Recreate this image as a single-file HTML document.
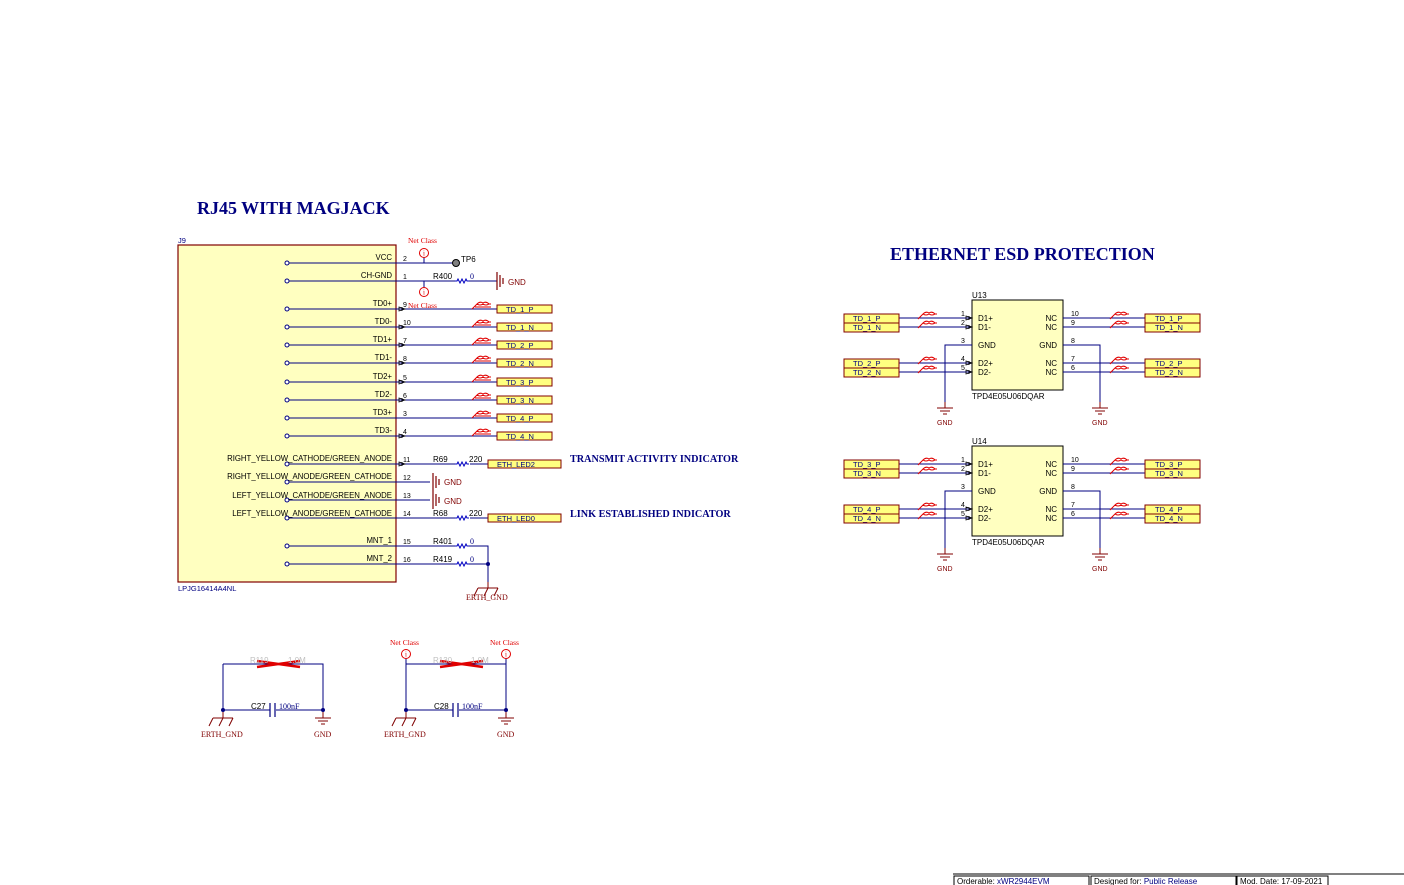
<!DOCTYPE html>
<html><head><meta charset="utf-8"><style>
html,body{margin:0;padding:0;background:#fff;width:1404px;height:885px;overflow:hidden}
svg{display:block}
.t{font-family:"Liberation Sans",sans-serif;font-size:8px;fill:#000}
.tj{font-family:"Liberation Sans",sans-serif;font-size:7.8px;fill:#000}
.lb{font-family:"Liberation Sans",sans-serif;font-size:7.5px;fill:#000080}
.pn{font-family:"Liberation Sans",sans-serif;font-size:7px;fill:#000}
.g{font-family:"Liberation Sans",sans-serif;font-size:8px;fill:#800000}
.s{font-family:"Liberation Serif",serif;font-size:8px;fill:#800000}
.nc{font-family:"Liberation Serif",serif;font-size:7.5px;fill:#e00000}
.h{font-family:"Liberation Serif",serif;font-weight:bold;font-size:18px;fill:#000080}
.h2{font-family:"Liberation Serif",serif;font-weight:bold;font-size:10.2px;fill:#000080}
.w{stroke:#000080;stroke-width:1;fill:none}
.bx{fill:#ffff80;stroke:#800000;stroke-width:1}
</style></head><body>
<svg width="1404" height="885" viewBox="0 0 1404 885" xmlns="http://www.w3.org/2000/svg">
<defs>
<g id="dp"><path d="M0,4 L5,-1 Q8,-4 11,-2 Q14,-4 17,-1 L19,-1 M5,-1 Q8,1 11,-1 Q14,1 17,-1 M3,2 L19,2" stroke="#e00000" fill="none" stroke-width="1"/></g>
<g id="dp2"><path d="M0,3 L5,-2 Q8,-5 11,-3 Q14,-5 17,-2 L19,-2 M5,-2 Q8,0 11,-2 Q14,0 17,-2" stroke="#e00000" fill="none" stroke-width="1"/></g>
<g id="res"><path d="M0,0 L2,0 L3,-2 L5,2 L7,-2 L9,2 L11,-2 L12,0 L14,0" stroke="#0000c0" fill="none" stroke-width="1"/></g>
<g id="gnd"><path d="M0,0 V6 M-8,6 H8 M-5,9 H5 M-2,12 H2" stroke="#800000" fill="none" stroke-width="1"/></g>
<g id="egnd"><path d="M0,0 V6 M-10,6 H10 M-10,6 L-14,14 M0,6 L-4,14 M10,6 L6,14" stroke="#800000" fill="none" stroke-width="1"/></g>
<g id="hg"><path d="M0,-9 V9 M3,-6 V6 M6,-3 V3" stroke="#800000" fill="none" stroke-width="1.2"/></g>
<g id="nci"><circle r="4.5" fill="#fff" stroke="#e00000"/><text x="0" y="2.5" text-anchor="middle" style="font:7px 'Liberation Serif',serif;fill:#e00000">i</text></g>
<g id="arr"><path d="M-4,-2 L2,0 L-4,2 Z M-1,-2 V2" stroke="#000" fill="none" stroke-width="0.8"/></g>
</defs>

<text x="197" y="214" class="h">RJ45 WITH MAGJACK</text>
<text x="890" y="260" class="h">ETHERNET ESD PROTECTION</text>

<!-- J9 -->
<text x="178" y="243" class="lb">J9</text>
<rect x="178" y="245" width="218" height="337" fill="#ffffc0" stroke="#800000" stroke-width="1.2"/>
<text x="178" y="591" class="lb">LPJG16414A4NL</text>

<g class="w">
<path d="M287,263 H455 M287,281 H497 M287,309 H497 M287,327 H497 M287,345 H497 M287,363 H497 M287,382 H497 M287,400 H497 M287,418 H497 M287,436 H497"/>
<path d="M287,464 H455 M470,464 H488 M287,482 H430 M287,500 H430 M287,518 H455 M470,518 H488 M287,546 H455 M468,546 H488 V564 M287,564 H455 M468,564 H488 M488,564 V584"/>
</g>
<rect x="455" y="279" width="14" height="4" fill="#fff"/>
<g fill="#fff" stroke="#000080">
<circle cx="287" cy="263" r="2"/><circle cx="287" cy="281" r="2"/><circle cx="287" cy="309" r="2"/><circle cx="287" cy="327" r="2"/><circle cx="287" cy="345" r="2"/><circle cx="287" cy="363" r="2"/><circle cx="287" cy="382" r="2"/><circle cx="287" cy="400" r="2"/><circle cx="287" cy="418" r="2"/><circle cx="287" cy="436" r="2"/><circle cx="287" cy="464" r="2"/><circle cx="287" cy="482" r="2"/><circle cx="287" cy="500" r="2"/><circle cx="287" cy="518" r="2"/><circle cx="287" cy="546" r="2"/><circle cx="287" cy="564" r="2"/>
</g>
<g class="tj" text-anchor="end">
<text x="392" y="260">VCC</text><text x="392" y="278">CH-GND</text><text x="392" y="306">TD0+</text><text x="392" y="324">TD0-</text><text x="392" y="342">TD1+</text><text x="392" y="360">TD1-</text><text x="392" y="379">TD2+</text><text x="392" y="397">TD2-</text><text x="392" y="415">TD3+</text><text x="392" y="433">TD3-</text>
<text x="392" y="461">RIGHT_YELLOW_CATHODE/GREEN_ANODE</text><text x="392" y="479">RIGHT_YELLOW_ANODE/GREEN_CATHODE</text><text x="392" y="498">LEFT_YELLOW_CATHODE/GREEN_ANODE</text><text x="392" y="516">LEFT_YELLOW_ANODE/GREEN_CATHODE</text>
<text x="392" y="543">MNT_1</text><text x="392" y="561">MNT_2</text>
</g>
<g class="pn">
<text x="403" y="261">2</text><text x="403" y="279">1</text><text x="403" y="307">9</text><text x="403" y="325">10</text><text x="403" y="343">7</text><text x="403" y="361">8</text><text x="403" y="380">5</text><text x="403" y="398">6</text><text x="403" y="416">3</text><text x="403" y="434">4</text>
<text x="403" y="462">11</text><text x="403" y="480">12</text><text x="403" y="498">13</text><text x="403" y="516">14</text><text x="403" y="544">15</text><text x="403" y="562">16</text>
</g>
<g transform="translate(403,0)"><use href="#arr" y="309"/><use href="#arr" y="327"/><use href="#arr" y="345"/><use href="#arr" y="363"/><use href="#arr" y="382"/><use href="#arr" y="400"/><use href="#arr" y="436"/><use href="#arr" y="464"/></g>
<!-- VCC / TP6 -->
<circle cx="456" cy="263" r="3.5" fill="#808080" stroke="#000"/>
<text x="461" y="262" class="t">TP6</text>
<line x1="424" y1="257" x2="424" y2="263" stroke="#000080"/>
<use href="#nci" x="424" y="253"/><text x="408" y="243" class="nc">Net Class</text>
<line x1="424" y1="281" x2="424" y2="287" stroke="#000080"/>
<use href="#nci" x="424" y="292"/><text x="408" y="308" class="nc">Net Class</text>
<text x="433" y="279" class="t">R400</text><use href="#res" x="455" y="281"/><text x="470" y="279" class="s" style="fill:#000080">0</text>
<use href="#hg" x="497" y="281"/><text x="508" y="285" class="g">GND</text>
<!-- diff pair markers -->
<g><use href="#dp" x="472" y="305"/><use href="#dp" x="472" y="323"/><use href="#dp" x="472" y="341"/><use href="#dp" x="472" y="359"/><use href="#dp" x="472" y="378"/><use href="#dp" x="472" y="396"/><use href="#dp" x="472" y="414"/><use href="#dp" x="472" y="432"/></g>
<g>
<rect class="bx" x="497" y="305" width="55" height="8"/><rect class="bx" x="497" y="323" width="55" height="8"/><rect class="bx" x="497" y="341" width="55" height="8"/><rect class="bx" x="497" y="359" width="55" height="8"/><rect class="bx" x="497" y="378" width="55" height="8"/><rect class="bx" x="497" y="396" width="55" height="8"/><rect class="bx" x="497" y="414" width="55" height="8"/><rect class="bx" x="497" y="432" width="55" height="8"/>
</g>
<g class="lb"><text x="506" y="312">TD_1_P</text><text x="506" y="330">TD_1_N</text><text x="506" y="348">TD_2_P</text><text x="506" y="366">TD_2_N</text><text x="506" y="385">TD_3_P</text><text x="506" y="403">TD_3_N</text><text x="506" y="421">TD_4_P</text><text x="506" y="439">TD_4_N</text></g>
<!-- LEDs -->
<text x="433" y="462" class="t">R69</text><use href="#res" x="455" y="464"/><text x="469" y="462" class="t">220</text>
<rect class="bx" x="488" y="460" width="73" height="8"/><text x="497" y="467" class="lb">ETH_LED2</text>
<text x="433" y="516" class="t">R68</text><use href="#res" x="455" y="518"/><text x="469" y="516" class="t">220</text>
<rect class="bx" x="488" y="514" width="73" height="8"/><text x="497" y="521" class="lb">ETH_LED0</text>
<text x="570" y="462" class="h2">TRANSMIT ACTIVITY INDICATOR</text>
<text x="570" y="517" class="h2">LINK ESTABLISHED INDICATOR</text>
<use href="#hg" x="433" y="482"/><text x="444" y="485" class="g">GND</text>
<use href="#hg" x="433" y="500"/><text x="444" y="504" class="g">GND</text>
<text x="433" y="544" class="t">R401</text><use href="#res" x="455" y="546"/><text x="470" y="544" class="s" style="fill:#000080">0</text>
<text x="433" y="562" class="t">R419</text><use href="#res" x="455" y="564"/><text x="470" y="562" class="s" style="fill:#000080">0</text>
<circle cx="488" cy="564" r="2" fill="#000080"/>
<use href="#egnd" x="488" y="582"/><text x="466" y="600" class="s">ERTH_GND</text>

<!-- Bottom left networks -->
<g class="w"><path d="M223,664 H323 V710 M223,664 V710 H270 M276,710 H323"/><path d="M406,664 H506 V710 M406,664 V710 H453 M459,710 H506"/></g>
<path d="M270,703 V717 M275,703 V717 M453,703 V717 M458,703 V717" stroke="#000080" stroke-width="1.2"/>
<text x="251" y="709" class="t">C27</text><text x="279" y="709" class="s" style="fill:#000080">100nF</text>
<text x="434" y="709" class="t">C28</text><text x="462" y="709" class="s" style="fill:#000080">100nF</text>
<g fill="#000080"><circle cx="223" cy="710" r="2"/><circle cx="323" cy="710" r="2"/><circle cx="406" cy="710" r="2"/><circle cx="506" cy="710" r="2"/></g>
<path d="M257,661 L300,667 M257,667 L300,661 M440,661 L483,667 M440,667 L483,661" stroke="#e00000" stroke-width="2.5"/>
<text x="250" y="663" class="t" style="fill:#c0c0c0">R119</text><text x="288" y="663" class="t" style="fill:#c0c0c0">1.0M</text>
<text x="433" y="663" class="t" style="fill:#c0c0c0">R130</text><text x="471" y="663" class="t" style="fill:#c0c0c0">1.0M</text>
<use href="#egnd" x="223" y="712"/><text x="201" y="737" class="s">ERTH_GND</text>
<use href="#gnd" x="323" y="712"/><text x="314" y="737" class="s">GND</text>
<use href="#egnd" x="406" y="712"/><text x="384" y="737" class="s">ERTH_GND</text>
<use href="#gnd" x="506" y="712"/><text x="497" y="737" class="s">GND</text>
<line x1="406" y1="658" x2="406" y2="664" stroke="#000080"/><use href="#nci" x="406" y="654"/><text x="390" y="645" class="nc">Net Class</text>
<line x1="506" y1="658" x2="506" y2="664" stroke="#000080"/><use href="#nci" x="506" y="654"/><text x="490" y="645" class="nc">Net Class</text>

<!-- U13 -->
<g>
<text x="972" y="298" class="t">U13</text>
<rect x="972" y="300" width="91" height="90" fill="#ffffc0" stroke="#000" stroke-width="1"/>
<text x="972" y="399" class="t">TPD4E05U06DQAR</text>
<g class="w"><path d="M899,318 H972 M899,327 H972 M899,363 H972 M899,372 H972 M1063,318 H1145 M1063,327 H1145 M1063,363 H1145 M1063,372 H1145 M972,345 H945 V408 M1063,345 H1100 V408"/></g>
<use href="#arr" x="970" y="318"/><use href="#arr" x="970" y="327"/><use href="#arr" x="970" y="363"/><use href="#arr" x="970" y="372"/>
<g class="pn"><text x="961" y="316">1</text><text x="961" y="325">2</text><text x="961" y="343">3</text><text x="961" y="361">4</text><text x="961" y="370">5</text><text x="1071" y="316">10</text><text x="1071" y="325">9</text><text x="1071" y="343">8</text><text x="1071" y="361">7</text><text x="1071" y="370">6</text></g>
<g class="t"><text x="978" y="321">D1+</text><text x="978" y="330">D1-</text><text x="978" y="348">GND</text><text x="978" y="366">D2+</text><text x="978" y="375">D2-</text></g>
<g class="t" text-anchor="end"><text x="1057" y="321">NC</text><text x="1057" y="330">NC</text><text x="1057" y="348">GND</text><text x="1057" y="366">NC</text><text x="1057" y="375">NC</text></g>
<use href="#dp2" x="918" y="316"/><use href="#dp2" x="918" y="325"/><use href="#dp2" x="918" y="361"/><use href="#dp2" x="918" y="370"/>
<use href="#dp2" x="1110" y="316"/><use href="#dp2" x="1110" y="325"/><use href="#dp2" x="1110" y="361"/><use href="#dp2" x="1110" y="370"/>
<rect class="bx" x="844" y="314" width="55" height="9"/><rect class="bx" x="844" y="323" width="55" height="9"/><rect class="bx" x="844" y="359" width="55" height="9"/><rect class="bx" x="844" y="368" width="55" height="9"/>
<rect class="bx" x="1145" y="314" width="55" height="9"/><rect class="bx" x="1145" y="323" width="55" height="9"/><rect class="bx" x="1145" y="359" width="55" height="9"/><rect class="bx" x="1145" y="368" width="55" height="9"/>
<use href="#gnd" x="945" y="402"/><text x="937" y="425" class="t" style="fill:#800000;font-size:7px">GND</text>
<use href="#gnd" x="1100" y="402"/><text x="1092" y="425" class="t" style="fill:#800000;font-size:7px">GND</text>
</g>
<g class="lb"><text x="853" y="321">TD_1_P</text><text x="853" y="330">TD_1_N</text><text x="853" y="366">TD_2_P</text><text x="853" y="375">TD_2_N</text>
<text x="1155" y="321">TD_1_P</text><text x="1155" y="330">TD_1_N</text><text x="1155" y="366">TD_2_P</text><text x="1155" y="375">TD_2_N</text></g>

<!-- U14 -->
<g transform="translate(0,146)">
<text x="972" y="298" class="t">U14</text>
<rect x="972" y="300" width="91" height="90" fill="#ffffc0" stroke="#000" stroke-width="1"/>
<text x="972" y="399" class="t">TPD4E05U06DQAR</text>
<g class="w"><path d="M899,318 H972 M899,327 H972 M899,363 H972 M899,372 H972 M1063,318 H1145 M1063,327 H1145 M1063,363 H1145 M1063,372 H1145 M972,345 H945 V408 M1063,345 H1100 V408"/></g>
<use href="#arr" x="970" y="318"/><use href="#arr" x="970" y="327"/><use href="#arr" x="970" y="363"/><use href="#arr" x="970" y="372"/>
<g class="pn"><text x="961" y="316">1</text><text x="961" y="325">2</text><text x="961" y="343">3</text><text x="961" y="361">4</text><text x="961" y="370">5</text><text x="1071" y="316">10</text><text x="1071" y="325">9</text><text x="1071" y="343">8</text><text x="1071" y="361">7</text><text x="1071" y="370">6</text></g>
<g class="t"><text x="978" y="321">D1+</text><text x="978" y="330">D1-</text><text x="978" y="348">GND</text><text x="978" y="366">D2+</text><text x="978" y="375">D2-</text></g>
<g class="t" text-anchor="end"><text x="1057" y="321">NC</text><text x="1057" y="330">NC</text><text x="1057" y="348">GND</text><text x="1057" y="366">NC</text><text x="1057" y="375">NC</text></g>
<use href="#dp2" x="918" y="316"/><use href="#dp2" x="918" y="325"/><use href="#dp2" x="918" y="361"/><use href="#dp2" x="918" y="370"/>
<use href="#dp2" x="1110" y="316"/><use href="#dp2" x="1110" y="325"/><use href="#dp2" x="1110" y="361"/><use href="#dp2" x="1110" y="370"/>
<rect class="bx" x="844" y="314" width="55" height="9"/><rect class="bx" x="844" y="323" width="55" height="9"/><rect class="bx" x="844" y="359" width="55" height="9"/><rect class="bx" x="844" y="368" width="55" height="9"/>
<rect class="bx" x="1145" y="314" width="55" height="9"/><rect class="bx" x="1145" y="323" width="55" height="9"/><rect class="bx" x="1145" y="359" width="55" height="9"/><rect class="bx" x="1145" y="368" width="55" height="9"/>
<use href="#gnd" x="945" y="402"/><text x="937" y="425" class="t" style="fill:#800000;font-size:7px">GND</text>
<use href="#gnd" x="1100" y="402"/><text x="1092" y="425" class="t" style="fill:#800000;font-size:7px">GND</text>
<g class="lb"><text x="853" y="321">TD_3_P</text><text x="853" y="330">TD_3_N</text><text x="853" y="366">TD_4_P</text><text x="853" y="375">TD_4_N</text>
<text x="1155" y="321">TD_3_P</text><text x="1155" y="330">TD_3_N</text><text x="1155" y="366">TD_4_P</text><text x="1155" y="375">TD_4_N</text></g>
</g>

<!-- title block -->
<line x1="953" y1="874" x2="1404" y2="874" stroke="#000"/>
<rect x="954" y="876" width="135" height="10" fill="none" stroke="#000"/>
<rect x="1091" y="876" width="145" height="10" fill="none" stroke="#000"/>
<rect x="1237" y="876" width="91" height="10" fill="none" stroke="#000"/>
<text x="957" y="884" class="t">Orderable: <tspan fill="#000080">xWR2944EVM</tspan></text>
<text x="1094" y="884" class="t">Designed for: <tspan fill="#000080">Public Release</tspan></text>
<text x="1240" y="884" class="t">Mod. Date: 17-09-2021</text>
</svg>
</body></html>
